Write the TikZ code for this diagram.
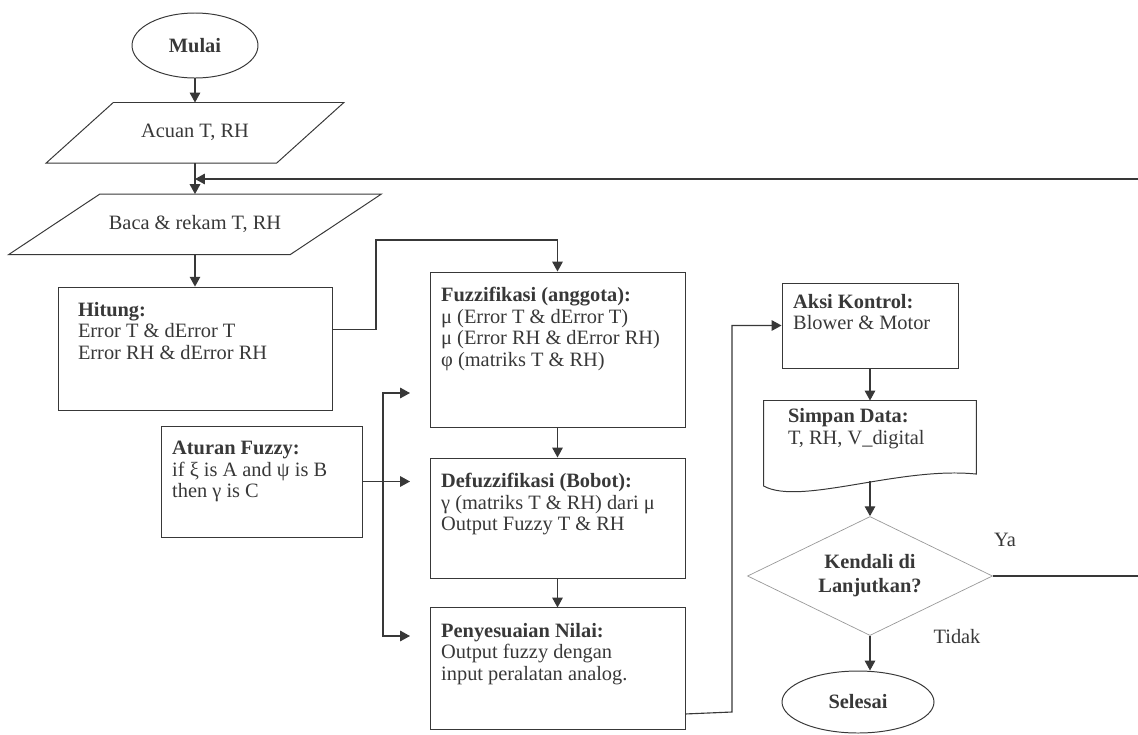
\documentclass[tikz,border=0pt]{standalone}
\usepackage{fontspec}
\setmainfont{Liberation Serif}
\usetikzlibrary{shapes.geometric, arrows.meta, positioning, calc}
\definecolor{tinta}{gray}{0.22}
\definecolor{garisbelah}{gray}{0.6}

\begin{document}
\begin{tikzpicture}[font=\fontsize{14.5}{15.3}\selectfont, text=tinta,
    terminal/.style={ellipse, draw=tinta, line width=0.7pt, minimum width=3.15cm,
        minimum height=1.625cm, inner sep=0pt, font=\fontsize{14.5}{15.3}\selectfont\bfseries},
    masukan/.style={rectangle, minimum height=1.5cm, inner sep=0pt},
    bingkai/.style={draw=tinta, line width=0.7pt},
    kotak/.style={rectangle, draw=tinta, line width=0.7pt, inner xsep=0.28cm, inner ysep=0.38cm},
    keputusan/.style={diamond, aspect=2, draw=garisbelah, line width=0.5pt, minimum width=6.125cm,
        minimum height=2.975cm, inner sep=0pt, align=center, font=\fontsize{14.5}{17}\selectfont\bfseries},
    garis/.style={draw=tinta, line width=0.8pt},
    panah/.style={garis, -{Triangle[length=7pt,width=7.5pt]}},
    panahdua/.style={garis, {Triangle[length=7pt,width=7.5pt]}-{Triangle[length=7pt,width=7.5pt]}}]
    \useasboundingbox (0,0) rectangle (28.45,-18.35);

    % kolom kiri
    \node[terminal] (mulai) at (4.875,-1.1375) {Mulai};
    \node[masukan, minimum width=5.75cm, below=0.6cm of mulai] (acuan) {Acuan T, RH};
    \draw[bingkai] ($(acuan.south west)+(-0.84,0)$) -- ($(acuan.south east)+(-0.84,0)$)
        -- ($(acuan.north east)+(0.84,0)$) -- ($(acuan.north west)+(0.84,0)$) -- cycle;
    \node[masukan, minimum width=7.025cm, below=0.775cm of acuan] (baca) {Baca \& rekam T, RH};
    \draw[bingkai] ($(baca.south west)+(-1.14,0)$) -- ($(baca.south east)+(-1.14,0)$)
        -- ($(baca.north east)+(1.14,0)$) -- ($(baca.north west)+(1.14,0)$) -- cycle;
    \node[kotak, inner xsep=0.5cm, below=0.8cm of baca] (hitung)
        {\parbox[t][2.315cm][t]{5.85cm}{\textbf{Hitung:}\\ Error T \& dError T\\ Error RH \& dError RH}};
    \node[kotak] (aturan) at (6.5375,-12.0375)
        {\parbox[t][2.015cm][t]{4.465cm}{\textbf{Aturan Fuzzy:}\\ if ξ is A and ψ is B\\ then γ is C}};

    % kolom tengah
    \node[kotak] (fuzz) at (13.9375,-8.7375)
        {\parbox[t][3.115cm][t]{5.815cm}{\textbf{Fuzzifikasi (anggota):}\\ μ (Error T \& dError T)\\
         μ (Error RH \& dError RH)\\ φ (matriks T \& RH)}};
    \node[kotak, below=0.75cm of fuzz] (defuzz)
        {\parbox[t][2.24cm][t]{5.815cm}{\textbf{Defuzzifikasi (Bobot):}\\ γ (matriks T \& RH) dari μ\\
         Output Fuzzy T \& RH}};
    \node[kotak, below=0.725cm of defuzz] (peny)
        {\parbox[t][2.29cm][t]{5.815cm}{\textbf{Penyesuaian Nilai:}\\ Output fuzzy dengan\\
         input peralatan analog.}};

    % kolom kanan
    \node[kotak, inner ysep=0.28cm] (aksi) at (21.75,-8.1375)
        {\parbox[t][1.565cm][t]{3.84cm}{\textbf{Aksi Kontrol:}\\ Blower \& Motor}};
    \node[rectangle, inner xsep=0.6cm, inner ysep=0.2cm, below=0.8cm of aksi] (simpan)
        {\parbox[t][1.6cm][t]{4.1cm}{\textbf{Simpan Data:}\\ T, RH, V\_digital}};
    \draw[bingkai] (simpan.north west) -- (simpan.north east)
        -- ($(simpan.south east)+(0,0.175)$)
        .. controls ($(simpan.south)+(0.75,0.375)$) and ($(simpan.south)+(-1.75,-0.625)$)
        .. ($(simpan.south west)+(0,-0.125)$) -- cycle;
    \node[keputusan] (lanjut) at (21.75,-14.4) {Kendali di\\ Lanjutkan?};
    \node[terminal, minimum width=3.8cm, minimum height=1.55cm] (selesai) at (21.45,-17.55) {Selesai};
    \node (ya) at (25.125,-13.5) {Ya};
    \node (tidak) at (23.925,-15.925) {Tidak};

    % titik bantu
    \coordinate (keluar) at ($(hitung.east)+(0,0.4875)$);
    \coordinate (belok) at (9.4,-6.0);
    \coordinate (cab1) at (9.575,-9.825);
    \coordinate (cab3) at (9.575,-15.9);
    \coordinate (ujung) at (10.25,0);
    \coordinate (keluar2) at ($(peny.east)+(0,-1.125)$);
    \coordinate (naik) at (18.3,-17.8);
    \coordinate (tepi1) at (28.45,-4.475);
    \coordinate (tepi2) at (28.45,-14.4);

    % alur
    \draw[panah] (mulai.south) -- (acuan.north);
    \draw[panah] (acuan.south) -- (baca.north);
    \draw[panah] (tepi1) -- (tepi1 -| baca.north);
    \draw[panah] (baca.south) -- (hitung.north);
    \draw[panah] (keluar) -| (belok) -| (fuzz.north);
    \draw[panah] (fuzz.south) -- (defuzz.north);
    \draw[panah] (defuzz.south) -- (peny.north);
    \draw[panah] (aturan.east) -- (aturan.east -| ujung);
    \draw[panahdua] (cab1 -| ujung) -- (cab1) -- (cab3) -- (cab3 -| ujung);
    \draw[panah] (keluar2) -- (naik) |- (aksi.west);
    \draw[panah] (aksi.south) -- (simpan.north);
    \draw[panah] (simpan.south) -- (lanjut.north);
    \draw[garis] (lanjut.east) -- (tepi2);
    \draw[panah] (lanjut.south) -- (lanjut.south |- selesai.north);
\end{tikzpicture}
\end{document}
